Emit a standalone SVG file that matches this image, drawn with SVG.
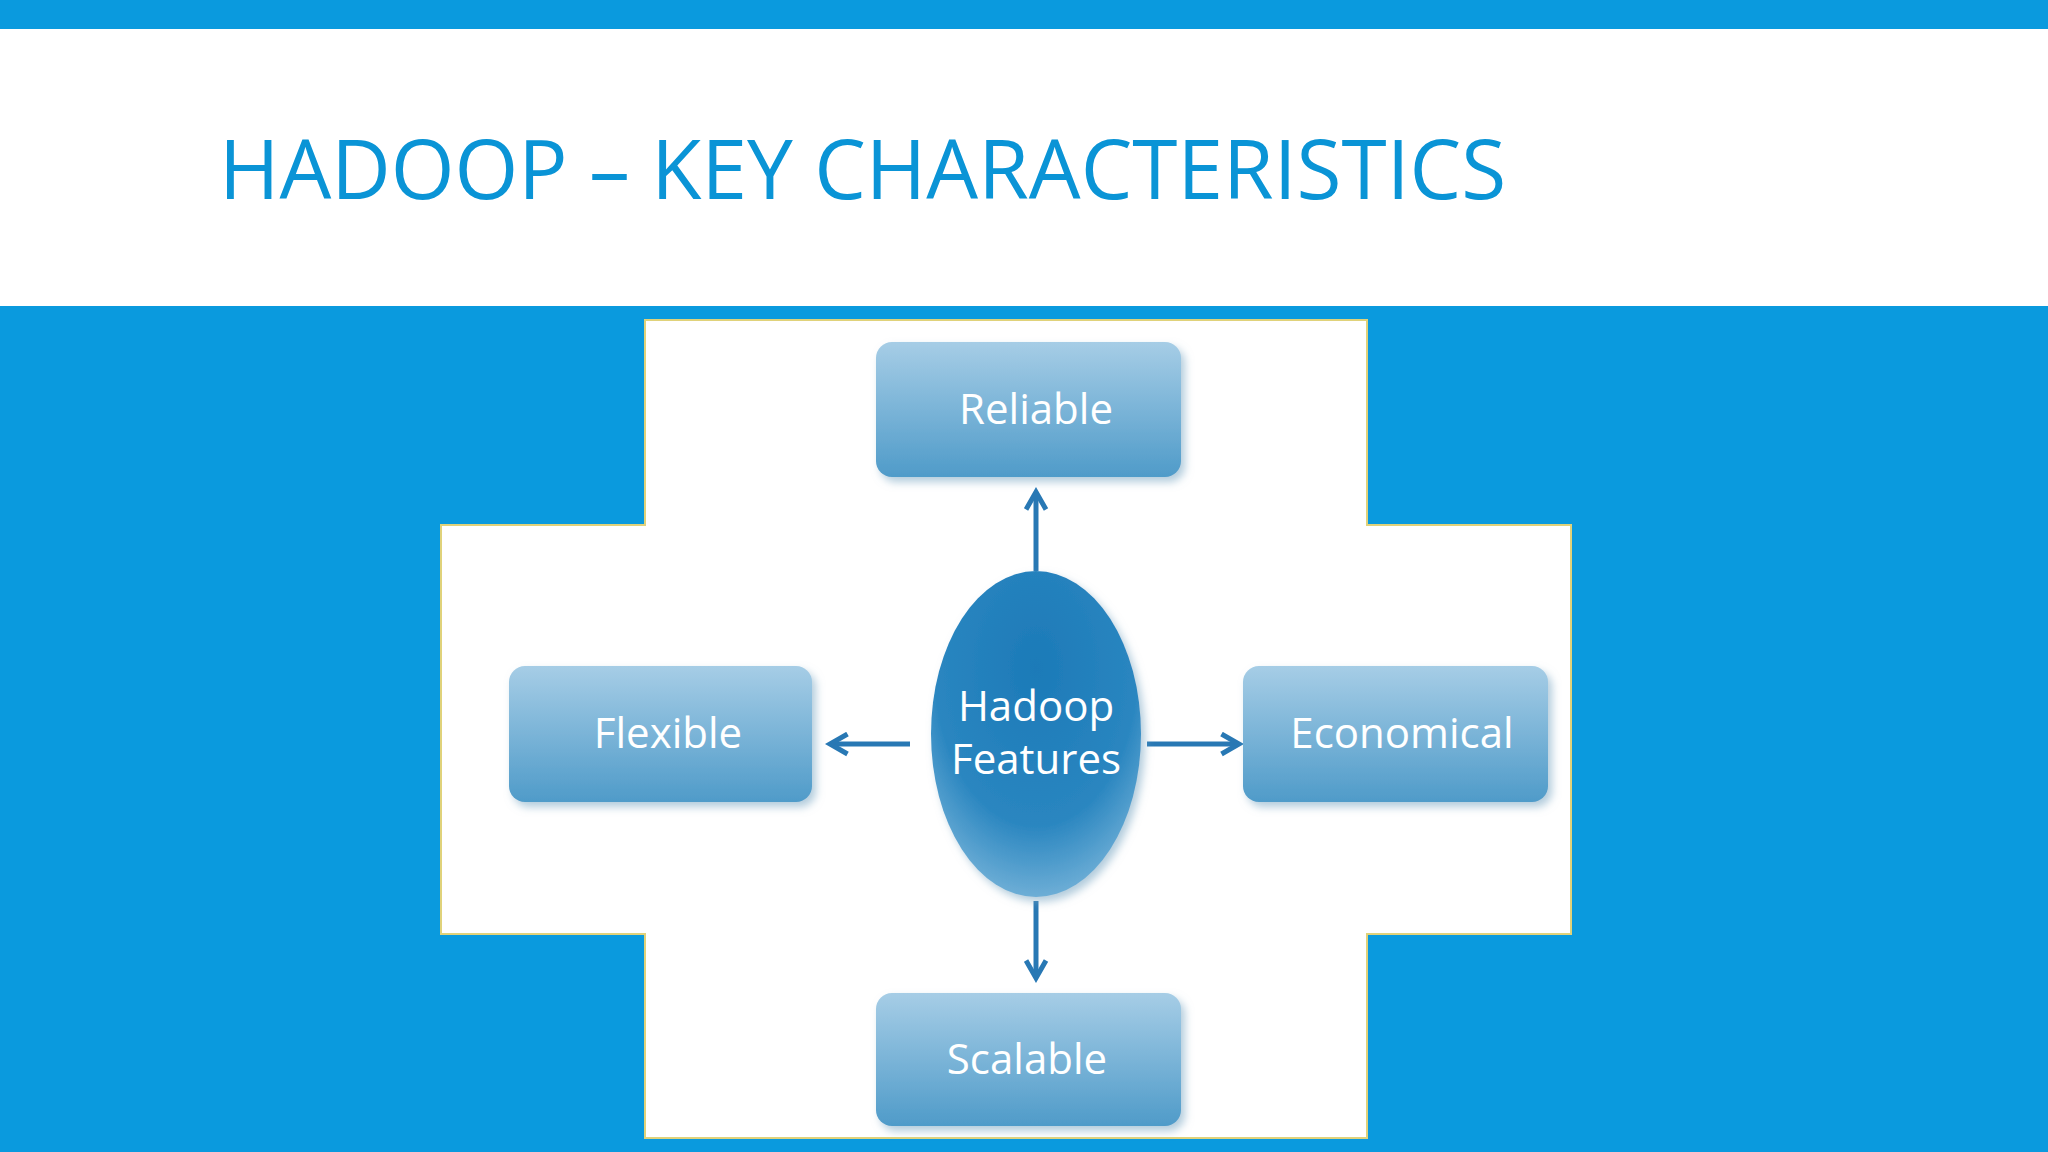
<svg xmlns="http://www.w3.org/2000/svg" width="2048" height="1152" viewBox="0 0 2048 1152">
<defs>
<linearGradient id="bx" x1="0" y1="0" x2="0" y2="1"><stop offset="0" stop-color="#a6cde6"/><stop offset="1" stop-color="#4f9bc9"/></linearGradient>
<radialGradient id="el" cx="0.5" cy="0.3" r="0.8"><stop offset="0" stop-color="#1c7ab8"/><stop offset="0.6" stop-color="#2a86c0"/><stop offset="1" stop-color="#8cc0e0"/></radialGradient>
<filter id="sh" x="-10%" y="-10%" width="125%" height="130%"><feDropShadow dx="4" dy="5" stdDeviation="4" flood-color="#7fa9c4" flood-opacity="0.6"/></filter>
<marker id="ah" viewBox="0 0 10 10" refX="8" refY="5" markerWidth="5" markerHeight="5" orient="auto"><path d="M1,1 L8,5 L1,9" fill="none" stroke="#2878b4" stroke-width="2"/></marker>
</defs>
<style>
.t{font-family:"Open Sans","Liberation Sans",sans-serif;fill:#fff;font-size:42px;text-anchor:middle}
.b{fill:url(#bx);filter:url(#sh)}
.c{stroke:#2878b4;stroke-width:5;fill:none;marker-end:url(#ah)}
</style>
<rect width="2048" height="1152" fill="#0a9ade"/>
<rect y="29" width="2048" height="277" fill="#fff"/>
<text x="219" y="199" font-family="Open Sans,Liberation Sans,sans-serif" font-size="82" fill="#0a94d6">HADOOP – KEY CHARACTERISTICS</text>
<path d="M645,320 H1367 V525 H1571 V934 H1367 V1138 H645 V934 H441 V525 H645 Z" fill="#fff" stroke="#e0d27a" stroke-width="2"/>
<g id="connectors">
<line class="c" x1="1036" y1="571" x2="1036" y2="492"/>
<line class="c" x1="1036" y1="901" x2="1036" y2="978"/>
<line class="c" x1="910" y1="744" x2="830" y2="744"/>
<line class="c" x1="1147" y1="744" x2="1239" y2="744"/>
</g>
<g id="center"><ellipse cx="1036" cy="734" rx="105" ry="163" fill="url(#el)" filter="url(#sh)"/>
<text class="t" x="1036" y="721">Hadoop</text><text class="t" x="1036" y="774">Features</text></g>
<g id="reliable"><rect class="b" x="876" y="342" width="305" height="135" rx="16"/><text class="t" x="1036" y="424">Reliable</text></g>
<g id="flexible"><rect class="b" x="509" y="666" width="303" height="136" rx="16"/><text class="t" x="668" y="748">Flexible</text></g>
<g id="economical"><rect class="b" x="1243" y="666" width="305" height="136" rx="16"/><text class="t" x="1402" y="748">Economical</text></g>
<g id="scalable"><rect class="b" x="876" y="993" width="305" height="133" rx="16"/><text class="t" x="1027" y="1074">Scalable</text></g>
</svg>
